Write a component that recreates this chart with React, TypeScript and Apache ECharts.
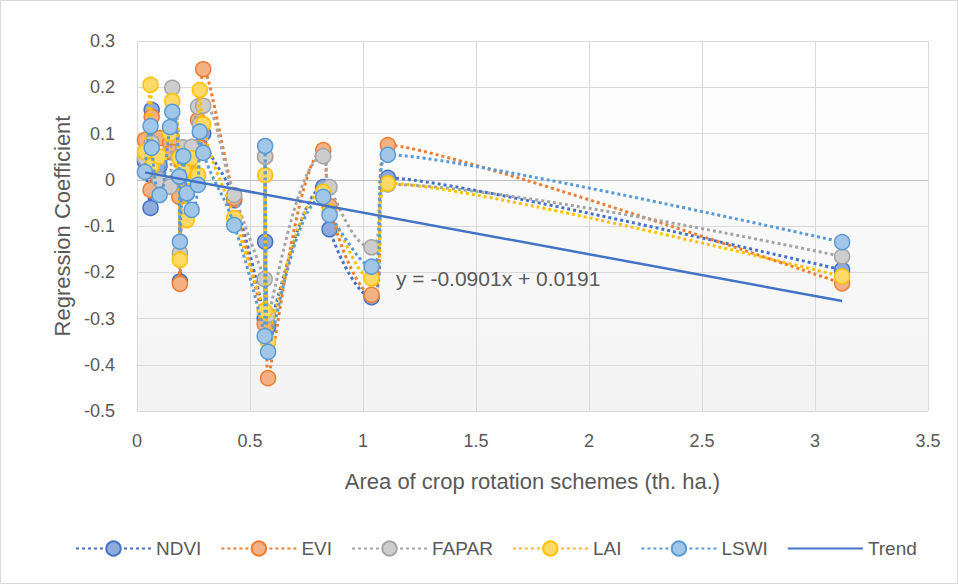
import React, { useEffect, useRef } from 'react';
import * as echarts from 'echarts';

const xValues = [0.035, 0.06, 0.065, 0.1, 0.146, 0.156, 0.187, 0.19, 0.205, 0.22, 0.242, 0.27, 0.278, 0.293, 0.43, 0.565, 0.567, 0.58, 0.824, 0.852, 1.038, 1.11, 3.12];
const ndvi = [0.04, -0.061, 0.151, 0.03, 0.06, 0.08, 0.005, -0.22, 0.05, -0.03, 0.065, 0.07, 0.159, 0.1, -0.044, -0.3, -0.134, -0.318, -0.016, -0.107, -0.254, 0.004, -0.195];
const evi = [0.086, -0.022, 0.136, 0.09, 0.08, 0.06, -0.037, -0.225, 0.064, 0.03, 0.06, 0.129, 0.07, 0.239, -0.04, -0.312, 0.05, -0.429, 0.064, -0.057, -0.249, 0.075, -0.224];
const fapar = [0.047, 0.06, 0.08, 0.0, -0.015, 0.199, 0.05, -0.158, 0.07, 0.04, 0.071, 0.158, 0.12, 0.16, -0.033, -0.215, 0.05, -0.292, 0.051, -0.016, -0.146, -0.01, -0.166];
const lai = [0.06, 0.205, 0.03, 0.05, 0.1, 0.17, 0.047, -0.173, 0.02, -0.087, 0.047, 0.01, 0.194, 0.12, -0.083, -0.284, 0.01, -0.35, -0.026, -0.07, -0.213, -0.008, -0.209];
const lswi = [0.017, 0.116, 0.069, -0.033, 0.114, 0.147, 0.007, -0.134, 0.051, -0.029, -0.065, -0.011, 0.104, 0.058, -0.098, -0.338, 0.073, -0.372, -0.037, -0.076, -0.188, 0.054, -0.135];
const seriesNames = ['NDVI', 'EVI', 'FAPAR', 'LAI', 'LSWI'];
const trendSlope = -0.0901;
const trendIntercept = 0.0191;

const FONT = 'Liberation Sans';
const TXT = '#595959';

const styles = [
  { line: '#4472C4', fill: '#8FAADC' },
  { line: '#ED7D31', fill: '#F4B183' },
  { line: '#A5A5A5', fill: '#CDCDCD' },
  { line: '#FFC000', fill: '#FFD966' },
  { line: '#5B9BD5', fill: '#A2C6E8' },
];

export default function App() {
  const ref = useRef<HTMLDivElement>(null);
  useEffect(() => {
    if (!ref.current) return;
    const chart = echarts.init(ref.current, null, { renderer: 'svg' });
    const values = [ndvi, evi, fapar, lai, lswi];
    const xMin = Math.min(...xValues);
    const xMax = Math.max(...xValues);
    const trendData = [xMin, xMax].map((x) => [x, trendSlope * x + trendIntercept]);
    const fmt = (n: number) => (n < 0 ? '-' : '+') + ' ' + Math.abs(n).toFixed(4);
    const eqText = 'y = ' + (trendSlope < 0 ? '-' : '') + Math.abs(trendSlope).toFixed(4) + 'x ' + fmt(trendIntercept);

    const series: any[] = seriesNames.map((name, i) => ({
      name,
      type: 'line',
      data: xValues.map((x, j) => [x, values[i][j]]),
      smooth: 0.5,
      symbol: 'circle',
      symbolSize: 15,
      lineStyle: { color: styles[i].line, width: 3, type: [3, 3] },
      itemStyle: { color: styles[i].fill, borderColor: styles[i].line, borderWidth: 1.5 },
      z: 2 + i,
    }));
    series.push({
      name: 'Trend',
      type: 'line',
      data: trendData,
      symbol: 'none',
      lineStyle: { color: '#4472C4', width: 2.5, type: 'solid' },
      itemStyle: { color: '#4472C4' },
      z: 10,
      markLine: {
        silent: true,
        symbol: ['none', 'none'],
        label: { show: false },
        lineStyle: { color: '#BFBFBF', width: 1, type: 'solid' },
        data: [{ yAxis: 0 }],
        z: 1,
      },
    });

    chart.setOption({
      animation: false,
      backgroundColor: '#FFFFFF',
      textStyle: { fontFamily: FONT },
      grid: {
        left: 137,
        right: 30,
        top: 41,
        bottom: 173,
        show: true,
        borderWidth: 0,
        backgroundColor: new echarts.graphic.LinearGradient(0, 0, 0, 1, [
          { offset: 0, color: '#FFFFFF' },
          { offset: 1, color: '#F3F3F3' },
        ]),
      },
      xAxis: {
        type: 'value',
        min: 0,
        max: 3.5,
        interval: 0.5,
        name: 'Area of crop rotation schemes (th. ha.)',
        nameLocation: 'middle',
        nameGap: 59,
        nameTextStyle: { fontSize: 22, color: TXT, fontFamily: FONT },
        axisLine: { show: false },
        axisTick: { show: false },
        axisLabel: { fontSize: 18, color: TXT, margin: 21, fontFamily: FONT },
        splitLine: { show: true, lineStyle: { color: '#D9D9D9', width: 1 } },
      },
      yAxis: {
        type: 'value',
        min: -0.5,
        max: 0.3,
        interval: 0.1,
        name: 'Regression Coefficient',
        nameLocation: 'middle',
        nameGap: 47,
        nameTextStyle: { fontSize: 22, color: TXT, fontFamily: FONT },
        axisLine: { show: false },
        axisTick: { show: false },
        axisLabel: {
          fontSize: 18,
          color: TXT,
          margin: 22,
          fontFamily: FONT,
          formatter: (v: number) => String(parseFloat(v.toFixed(1))),
        },
        splitLine: { show: true, lineStyle: { color: '#D9D9D9', width: 1 } },
      },
      legend: {
        bottom: 21,
        left: 70,
        itemWidth: 75,
        itemHeight: 18,
        itemGap: 19,
        textStyle: { fontSize: 19, color: TXT, fontFamily: FONT },
        data: [
          ...seriesNames.map((n) => ({ name: n })),
          { name: 'Trend', itemStyle: { color: 'rgba(0,0,0,0)', borderWidth: 0, opacity: 0 } },
        ],
      },
      graphic: [
        {
          type: 'rect',
          shape: { x: 0.5, y: 0.5, width: 957, height: 583 },
          style: { fill: 'none', stroke: '#D9D9D9', lineWidth: 1 },
          silent: true,
          z: -1,
        },
        {
          type: 'text',
          x: 396,
          y: 278,
          style: { text: eqText, fontSize: 21, fill: TXT, fontFamily: FONT, verticalAlign: 'middle', align: 'left' },
          z: 20,
        },
      ],
      series,
    });
    return () => chart.dispose();
  }, []);
  return <div ref={ref} style={{ position: 'fixed', left: 0, top: 0, width: 958, height: 584 }} />;
}
